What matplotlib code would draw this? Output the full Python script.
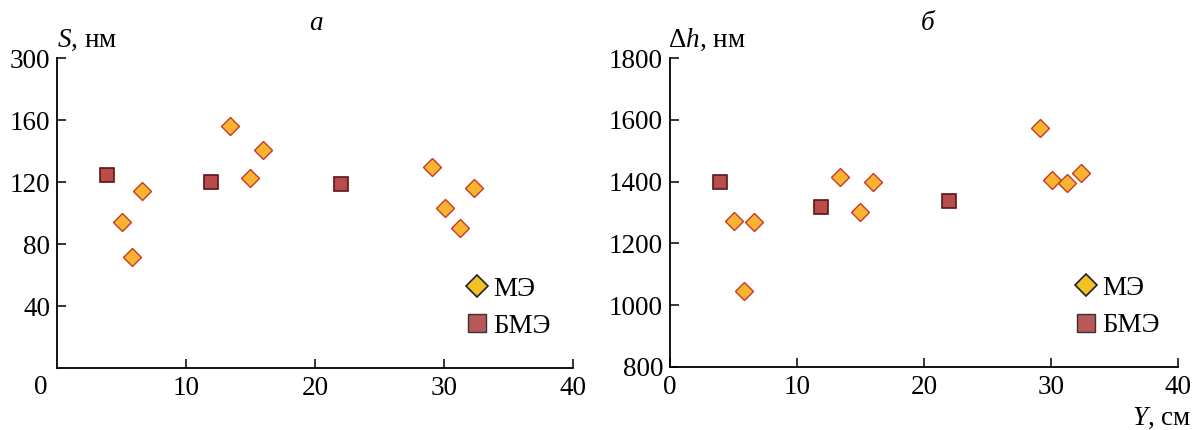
import matplotlib

matplotlib.use("Agg")
import matplotlib.pyplot as plt

plt.rcParams.update({
    "font.family": ["Liberation Serif", "DejaVu Serif"],
    "mathtext.fontset": "custom",
    "mathtext.rm": "Liberation Serif",
    "mathtext.it": "Liberation Serif:italic",
    "font.size": 19.5,
    "axes.spines.top": False, "axes.spines.right": False,
    "axes.linewidth": 1.3,
})

# Y, cm positions
me_y = [5.05, 5.85, 6.6, 13.4, 14.95, 16.0, 29.1, 30.05, 31.25, 32.35]
bme_y = [3.9, 11.9, 22.0]

# panel a: S, nm
me_s = [94, 71.5, 114, 156, 122.5, 140.5, 129.5, 103.5, 90.5, 116]
bme_s = [124.5, 120, 118.5]

# panel b: delta h, nm
me_dh = [1271, 1045, 1268, 1414, 1303, 1400, 1575, 1405, 1395, 1429]
bme_dh = [1400, 1319, 1338]

s_ticks = [40, 80, 120, 160, 200]
s_labels = ["40", "80", "120", "160", "300"]  # top label as printed
dh_ticks = [800, 1000, 1200, 1400, 1600, 1800]

ME_FC, ME_EC = "#F8B330", "#C43A28"
BME_FC, BME_EC = "#B84B4B", "#5E1414"

fig = plt.figure(figsize=(11.93, 4.30), dpi=100)
ax1 = fig.add_axes([57 / 1193, 62 / 430, 516 / 1193, 310 / 430])
ax2 = fig.add_axes([670 / 1193, 63 / 430, 508 / 1193, 309 / 430])


def draw(ax, yme, ybme):
    ax.plot(me_y, yme, "D", ms=8.8, mfc=ME_FC, mec=ME_EC, mew=1.0, ls="none",
            zorder=3)
    ax.plot(bme_y, ybme, "s", ms=10, mfc=BME_FC, mec=BME_EC, mew=1.2, ls="none",
            zorder=3)
    ax.set_xlim(0, 40)
    ax.tick_params(direction="in", length=6.5, width=1.1, pad=6)
    ax.tick_params(axis="y", pad=5)
    # legend handles with the legend's own colours
    h1 = ax.plot([], [], "D", ms=11.5, mfc="#F2C224", mec="#222222", mew=1.2,
                 ls="none")[0]
    h2 = ax.plot([], [], "s", ms=12.5, mfc="#B85858", mec="#333333", mew=1.0,
                 ls="none")[0]
    return h1, h2


legend_kw = dict(loc="upper left", frameon=False, handlelength=0.9,
                 handletextpad=0.15, labelspacing=0.45, borderpad=0,
                 borderaxespad=0)

h1, h2 = draw(ax1, me_s, bme_s)
ax1.set_ylim(0, 200)
ax1.set_yticks(s_ticks, s_labels)
ax1.set_xticks([10, 20, 30, 40])
ax1.legend([h1, h2], ["МЭ", "БМЭ"], bbox_to_anchor=(0.79, 0.295), **legend_kw)

h1, h2 = draw(ax2, me_dh, bme_dh)
ax2.set_ylim(800, 1800)
ax2.set_yticks(dh_ticks)
ax2.set_xticks([0, 10, 20, 30, 40])
ax2.legend([h1, h2], ["МЭ", "БМЭ"], bbox_to_anchor=(0.795, 0.295), **legend_kw)

# axis labels and panel letters
fig.text(57 / 1193, 1 - 40 / 430, "$S$, нм", ha="left", va="center")
fig.text(668 / 1193, 1 - 40 / 430, r"$\Delta h$, нм", ha="left", va="center")
fig.text(316 / 1193, 1 - 24 / 430, "a", ha="center", va="center", style="italic")
fig.text(928 / 1193, 1 - 24 / 430, "б", ha="center", va="center", style="italic")
fig.text(41 / 1193, 1 - 388 / 430, "0", ha="center", va="center")
fig.text(1191 / 1193, 1 - 418 / 430, "$Y$, см", ha="right", va="center")

fig.savefig("out.png", dpi=100)
